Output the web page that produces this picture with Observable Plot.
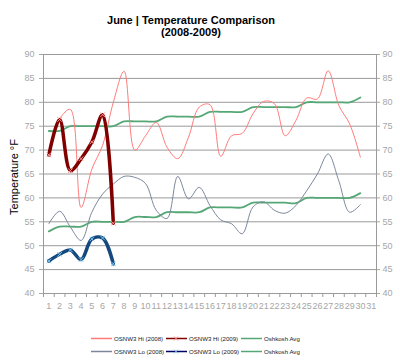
<!DOCTYPE html>
<html>
<head>
<meta charset="utf-8">
<script src="https://cdn.jsdelivr.net/npm/d3@7"></script>
<script src="https://cdn.jsdelivr.net/npm/@observablehq/plot@0.6"></script>
<style>
  html, body { margin: 0; padding: 0; background: #fff; }
  #wrap { position: relative; width: 400px; height: 363px; overflow: hidden; font-family: "Liberation Sans", Arial, sans-serif; }
  #chart { position: absolute; left: 0; top: 0; }
  .title { position: absolute; left: 91px; width: 200px; text-align: center; font-size: 11px; font-weight: bold; color: #000; line-height: 12px; }
  .ylab { position: absolute; left: 14px; top: 177px; transform: translate(-50%, -50%) rotate(-90deg); font-size: 11px; color: #000; white-space: nowrap; }
  #legend { position: absolute; left: 0; top: 330px; }
</style>
</head>
<body>
<div id="wrap">
  <div id="chart"></div>
  <div class="title" style="top:14px">June | Temperature Comparison</div>
  <div class="title" style="top:26px">(2008-2009)</div>
  <div class="ylab">Temperature °F</div>
  <svg id="legend" width="400" height="30"></svg>
</div>
<script>
const days = [1,2,3,4,5,6,7,8,9,10,11,12,13,14,15,16,17,18,19,20,21,22,23,24,25,26,27,28,29,30];
const days2009 = [1,2,3,4,5,6,7];
const xTickLabels = [1,2,3,4,5,6,7,8,9,10,11,12,13,14,15,16,17,18,19,20,21,22,23,24,25,26,27,28,29,30,31];
const yTicks = [40,45,50,55,60,65,70,75,80,85,90];

const hi2008 = [69, 76.5, 78.5, 58, 66, 71, 80, 86.5, 70, 73, 75.8, 70.6, 68.2, 72.7, 79, 79.5, 68.7, 73, 73.5, 77.6, 80.2, 79.7, 73, 76.2, 80.9, 80.7, 86.6, 79.3, 75.5, 68.5];
const hi2009 = [69, 76.4, 65.7, 68.2, 71.7, 77.4, 54.7];
const lo2008 = [54.6, 57.2, 53.9, 51.1, 57, 60.8, 62.9, 64.5, 64.3, 63, 57.4, 55.7, 64.5, 59.8, 62.2, 58.4, 55.4, 54.6, 52.5, 58.1, 59.2, 57.4, 56.8, 58.4, 61.5, 65, 69.2, 63.5, 57, 58.6];
const lo2009 = [46.8, 48.2, 49.1, 47.1, 51.4, 51.6, 46.2];
const avgHi = [74,74,75,75,75,75,75,76,76,76,76,77,77,77,77,78,78,78,78,79,79,79,79,79,80,80,80,80,80,81];
const avgLo = [53,54,54,54,55,55,55,55,56,56,56,57,57,57,57,58,58,58,58,59,59,59,59,58.9,60,60,60,60,60,61];

const seriesNames = ["OSNW3 Hi (2008)", "OSNW3 Hi (2009)", "Oshkosh Avg", "OSNW3 Lo (2008)", "OSNW3 Lo (2009)", "Oshkosh Avg"];
const colors = {hi08: "#ff7b7b", hi09: "#800000", avg: "#55a876", lo08: "#7c879c", lo09: "#14487e", hiMark: "#ff9090", loMark: "#7fc8ee"};

const toRows = (xs, ys) => xs.map((d, i) => ({day: d, t: ys[i]}));
const rHi08 = toRows(days, hi2008), rHi09 = toRows(days2009, hi2009);
const rLo08 = toRows(days, lo2008), rLo09 = toRows(days2009, lo2009);
const rAvgHi = toRows(days, avgHi), rAvgLo = toRows(days, avgLo);
const bounds = xTickLabels.map(d => d - 0.5).concat([31.5]);

const chart = Plot.plot({
  width: 400, height: 363,
  marginTop: 54, marginBottom: 70, marginLeft: 43, marginRight: 24,
  x: {domain: [0.5, 31.5]},
  y: {domain: [40, 90]},
  style: {fontFamily: "'Liberation Sans', Arial, sans-serif", fontSize: "9px", background: "#fff", overflow: "visible"},
  marks: [
    Plot.gridY(yTicks, {stroke: "#9a9a9a", strokeOpacity: 1}),
    Plot.ruleX([0.5, 31.5], {stroke: "#9a9a9a"}),
    Plot.ruleY([40], {stroke: "#9a9a9a"}),
    Plot.axisY(yTicks, {anchor: "left", tickSize: 4, tickPadding: 5, color: "#a6a6a6", label: null}),
    Plot.axisY(yTicks, {anchor: "right", tickSize: 3, tickPadding: 3, color: "#a6a6a6", label: null}),
    Plot.axisX(bounds, {tickSize: 4, tickFormat: () => "", color: "#9a9a9a", label: null}),
    Plot.axisX(xTickLabels, {tickSize: 0, tickPadding: 9, color: "#a6a6a6", label: null}),
    Plot.line(rAvgHi, {x: "day", y: "t", stroke: colors.avg, strokeWidth: 1.8, curve: "catmull-rom"}),
    Plot.line(rAvgLo, {x: "day", y: "t", stroke: colors.avg, strokeWidth: 1.8, curve: "catmull-rom"}),
    Plot.line(rHi08, {x: "day", y: "t", stroke: colors.hi08, strokeWidth: 1, curve: "catmull-rom"}),
    Plot.line(rLo08, {x: "day", y: "t", stroke: colors.lo08, strokeWidth: 1, curve: "catmull-rom"}),
    Plot.line(rHi09, {x: "day", y: "t", stroke: colors.hi09, strokeWidth: 3.5, curve: "catmull-rom"}),
    Plot.line(rLo09, {x: "day", y: "t", stroke: colors.lo09, strokeWidth: 3.5, curve: "catmull-rom"}),
    Plot.dot(rHi09, {x: "day", y: "t", symbol: "times", r: 2.2, stroke: colors.hiMark, strokeWidth: 1}),
    Plot.dot(rLo09, {x: "day", y: "t", symbol: "times", r: 2.2, stroke: colors.loMark, strokeWidth: 1})
  ]
});
document.getElementById("chart").appendChild(chart);

// legend
const legendItems = [
  {name: seriesNames[0], color: colors.hi08, x: 91, y: 8.5, w: 1.5, mark: null},
  {name: seriesNames[1], color: colors.hi09, x: 166, y: 8.5, w: 1.5, mark: colors.hiMark},
  {name: seriesNames[2], color: colors.avg, x: 241, y: 8.5, w: 1.5, mark: null},
  {name: seriesNames[3], color: colors.lo08, x: 91, y: 21.5, w: 1.5, mark: null},
  {name: seriesNames[4], color: "#000066", x: 166, y: 21.5, w: 1.5, mark: colors.loMark},
  {name: seriesNames[5], color: colors.avg, x: 241, y: 21.5, w: 1.5, mark: null}
];
const lg = d3.select("#legend");
legendItems.forEach(it => {
  lg.append("line").attr("x1", it.x).attr("x2", it.x + 21).attr("y1", it.y).attr("y2", it.y)
    .attr("stroke", it.color).attr("stroke-width", it.w);
  if (it.mark) {
    const cx = it.x + 10, cy = it.y;
    lg.append("path").attr("d", `M${cx-2},${cy-2}L${cx+2},${cy+2}M${cx-2},${cy+2}L${cx+2},${cy-2}`)
      .attr("stroke", it.mark).attr("stroke-width", 1);
  }
  lg.append("text").attr("x", it.x + 23).attr("y", it.y).attr("dy", "0.35em")
    .attr("font-size", "6.1px").attr("fill", "#222")
    .attr("font-family", "'Liberation Sans', Arial, sans-serif").text(it.name);
});
</script>
</body>
</html>
